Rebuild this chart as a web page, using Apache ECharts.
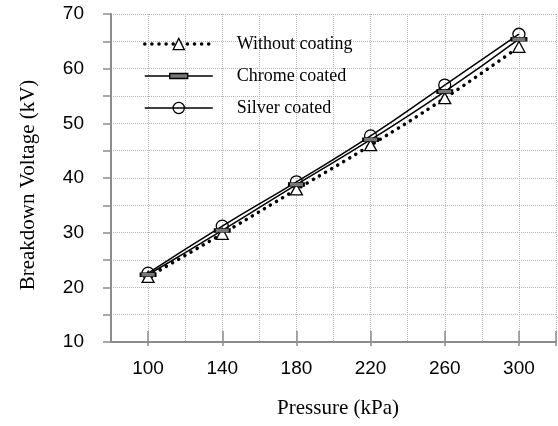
<!DOCTYPE html>
<html><head><meta charset="utf-8">
<script src="https://cdn.jsdelivr.net/npm/echarts@6/dist/echarts.min.js"></script>
<style>html,body{margin:0;padding:0;background:#fff}#c{width:558px;height:426px}</style>
</head><body><div id="c"></div>
<script>
const pressure = [100, 140, 180, 220, 260, 300];
const withoutCoating = [21.9, 29.8, 37.9, 46.0, 54.6, 64.0];
const chromeCoated = [22.3, 30.4, 38.8, 47.0, 55.8, 65.4];
const silverCoated = [22.6, 31.2, 39.3, 47.7, 57.0, 66.3];
const xTickLabels = [100, 140, 180, 220, 260, 300];
const xTickMarks = [100, 140, 180, 220, 260, 300, 320];
const seriesNames = ['Without coating', 'Chrome coated', 'Silver coated'];
const xName = 'Pressure (kPa)';
const yName = 'Breakdown Voltage (kV)';

const toPairs = arr => pressure.map((p, i) => [p, arr[i]]);
const axisGray = '#8c8c8c';
const sans = '"Liberation Sans", Arial, sans-serif';
const serif = '"Liberation Serif", "Times New Roman", serif';

const chart = echarts.init(document.getElementById('c'));
chart.setOption({
  animation: false,
  backgroundColor: '#fff',
  grid: { left: 111, top: 14, width: 445, height: 328, containLabel: false },
  legend: {
    left: 143, top: 35, orient: 'vertical', padding: 0,
    itemWidth: 68, itemHeight: 14, itemGap: 14,
    textStyle: { fontFamily: serif, fontSize: 18, color: '#000', padding: [0, 0, 0, 19] },
    data: [
      { name: seriesNames[0], lineStyle: { width: 3.5 }, itemStyle: { borderWidth: 1.3 } },
      { name: seriesNames[1], icon: 'path://M0,2.5L25,2.5M43,2.5L68,2.5M25,0L43,0L43,5L25,5Z',
        itemStyle: { color: '#777', borderColor: '#000', borderWidth: 1.3 } },
      { name: seriesNames[2], lineStyle: { width: 1.5 }, itemStyle: { borderWidth: 1.3 } }
    ]
  },
  xAxis: [
    {
      type: 'value', min: 80, max: 320, interval: 20,
      name: xName, nameLocation: 'middle', nameGap: 56,
      nameTextStyle: { fontFamily: serif, fontSize: 21, color: '#000', padding: [0, 0, 0, 9] },
      axisLine: { show: true, lineStyle: { color: axisGray, width: 2 } },
      axisTick: { show: true, customValues: xTickMarks, length: 4, lineStyle: { color: axisGray, width: 1.5 } },
      axisLabel: { customValues: xTickLabels, margin: 17, fontFamily: sans, fontSize: 19, color: '#000' },
      splitLine: { show: false }
    },
    {
      type: 'value', min: 80, max: 320, interval: 20,
      axisLine: { show: false }, axisTick: { show: false }, axisLabel: { show: false },
      splitLine: { show: true, lineStyle: { color: '#b4b4b4', width: 1, type: 'dotted' } }
    },
    {
      type: 'value', min: 80, max: 320, interval: 20, position: 'bottom',
      axisLine: { show: false }, axisLabel: { show: false },
      axisTick: { show: true, inside: true, customValues: xTickMarks, length: 11, lineStyle: { color: axisGray, width: 1.5 } },
      splitLine: { show: false }
    }
  ],
  yAxis: {
    type: 'value', min: 10, max: 70, interval: 5,
    name: yName, nameLocation: 'middle', nameGap: 72,
    nameTextStyle: { fontFamily: serif, fontSize: 21, color: '#000', padding: [0, 14, 0, 0] },
    axisLine: { show: true, lineStyle: { color: axisGray, width: 2 } },
    axisTick: { show: true, length: 8, lineStyle: { color: axisGray, width: 1.5 } },
    axisLabel: { margin: 27, fontFamily: sans, fontSize: 19, color: '#000',
      formatter: v => (v % 10 === 0 ? String(v) : '') },
    splitLine: { show: true, lineStyle: { color: '#b4b4b4', width: 1, type: 'dotted' } }
  },
  series: [
    {
      name: seriesNames[2], type: 'line', data: toPairs(silverCoated), smooth: true,
      symbol: 'circle', symbolSize: 12,
      lineStyle: { color: '#000', width: 1.5 },
      itemStyle: { color: 'rgba(255,255,255,0)', borderColor: '#000', borderWidth: 1.3 }
    },
    {
      name: seriesNames[0], type: 'line', data: toPairs(withoutCoating), smooth: true,
      symbol: 'triangle', symbolSize: [12, 11],
      lineStyle: { color: '#000', width: 3.5, type: [0.1, 7], cap: 'round' },
      itemStyle: { color: '#fff', borderColor: '#000', borderWidth: 1.3 }
    },
    {
      name: seriesNames[1], type: 'line', data: toPairs(chromeCoated), smooth: true,
      symbol: 'rect', symbolSize: [15, 4],
      lineStyle: { color: '#000', width: 1.5 },
      itemStyle: { color: '#777', borderColor: '#000', borderWidth: 1 }
    }
  ]
});
</script></body></html>
